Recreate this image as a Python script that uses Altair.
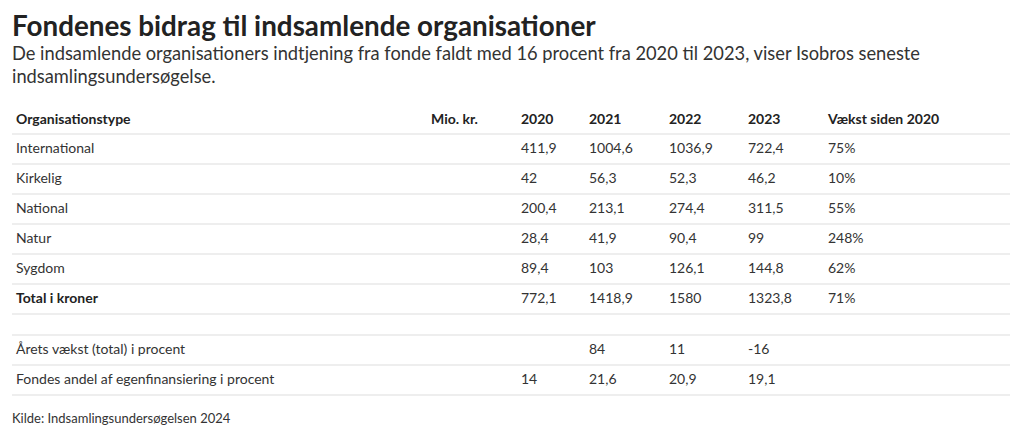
import altair as alt
import pandas as pd

# ---- data ----
title = "Fondenes bidrag til indsamlende organisationer"
subtitle = ["De indsamlende organisationers indtjening fra fonde faldt med 16 procent fra 2020 til 2023, viser Isobros seneste",
            "indsamlingsundersøgelse."]
source = "Kilde: Indsamlingsundersøgelsen 2024"

headers = ["Organisationstype", "Mio. kr.", "2020", "2021", "2022", "2023", "Vækst siden 2020"]
org_types = ["International", "Kirkelig", "National", "Natur", "Sygdom", "Total i kroner"]
v2020 = [411.9, 42, 200.4, 28.4, 89.4, 772.1]
v2021 = [1004.6, 56.3, 213.1, 41.9, 103, 1418.9]
v2022 = [1036.9, 52.3, 274.4, 90.4, 126.1, 1580]
v2023 = [722.4, 46.2, 311.5, 99, 144.8, 1323.8]
growth_pct = [75, 10, 55, 248, 62, 71]

extra_labels = ["Årets vækst (total) i procent", "Fondes andel af egenfinansiering i procent"]
extra_2020 = [None, 14]
extra_2021 = [84, 21.6]
extra_2022 = [11, 20.9]
extra_2023 = [-16, 19.1]

# ---- layout ----
FONT = "Lato"
W = 1004
col_left = [8, 423, 513, 581, 661, 740, 820]   # column text starts
line_x0, line_x1 = 4, 1002
header_h = 34
row_h = 30
gap_h = 21
H = 324


def fmt(v):
    if v is None:
        return ""
    s = ("%g" % v).replace(".", ",")
    return s


# rows: header, 6 data rows, gap row, 2 extra rows
rows = []
rows.append(("header", headers, True))
for i, t in enumerate(org_types):
    cells = [t, "", fmt(v2020[i]), fmt(v2021[i]), fmt(v2022[i]), fmt(v2023[i]), f"{growth_pct[i]}%"]
    rows.append(("data", cells, t == "Total i kroner"))
rows.append(("gap", [""] * 7, False))
for i, t in enumerate(extra_labels):
    cells = [t, "", fmt(extra_2020[i]), fmt(extra_2021[i]), fmt(extra_2022[i]), fmt(extra_2023[i]), ""]
    rows.append(("data", cells, False))

cell_recs = []
line_recs = []
y = 0
for kind, cells, bold in rows:
    h = header_h if kind == "header" else (gap_h if kind == "gap" else row_h)
    ymid = y + (h / 2 if kind != "header" else 20)
    for c, txt in enumerate(cells):
        if txt == "":
            continue
        b = kind == "header" or (bold and c == 0)
        cell_recs.append({"x": col_left[c], "y": ymid, "text": txt, "bold": "bold" if b else "normal"})
    y += h
    line_recs.append({"x": line_x0, "x2": line_x1, "y": y})

cells_df = pd.DataFrame(cell_recs)
lines_df = pd.DataFrame(line_recs)
src_df = pd.DataFrame([{"x": 0, "y": y + 24, "text": source}])

xs = alt.Scale(domain=[0, W], range=[0, W])
ys = alt.Scale(domain=[0, H], range=[0, H])

lines = alt.Chart(lines_df).mark_rule(color="#dddddd", strokeWidth=1).encode(
    x=alt.X("x:Q", scale=xs, axis=None), x2="x2:Q",
    y=alt.Y("y:Q", scale=ys, axis=None))

txt_normal = alt.Chart(cells_df).transform_filter(alt.datum.bold == "normal").mark_text(
    align="left", baseline="middle", font=FONT, fontSize=14, color="#333333").encode(
    x=alt.X("x:Q", scale=xs, axis=None), y=alt.Y("y:Q", scale=ys, axis=None), text="text:N")

txt_bold = alt.Chart(cells_df).transform_filter(alt.datum.bold == "bold").mark_text(
    align="left", baseline="middle", font=FONT, fontSize=14, fontWeight="bold", color="#222222").encode(
    x=alt.X("x:Q", scale=xs, axis=None), y=alt.Y("y:Q", scale=ys, axis=None), text="text:N")

src = alt.Chart(src_df).mark_text(
    align="left", baseline="middle", font=FONT, fontSize=13, color="#333333", dx=4).encode(
    x=alt.X("x:Q", scale=xs, axis=None), y=alt.Y("y:Q", scale=ys, axis=None), text="text:N")

chart = alt.layer(lines, txt_normal, txt_bold, src).properties(
    width=W, height=H,
    padding={"top": 5, "left": 0, "right": 0, "bottom": 0},
    title=alt.TitleParams(
        text=title, subtitle=subtitle, anchor="start", dx=4,
        font=FONT, fontSize=27.8, fontWeight="bold", color="#222222",
        subtitleFont=FONT, subtitleFontSize=18.3, subtitleColor="#333333",
        subtitleLineHeight=23, subtitlePadding=4, offset=14),
).configure_view(stroke=None)

chart.save("out.html", embed_options={"renderer": "svg", "actions": False})
